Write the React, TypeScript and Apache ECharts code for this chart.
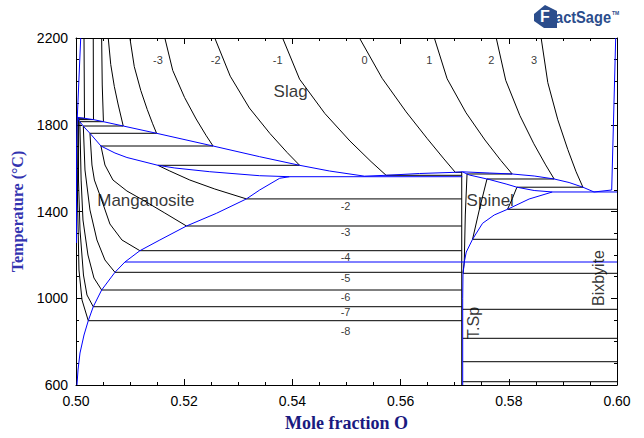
import React, { useEffect, useRef } from 'react';
import * as echarts from 'echarts';

type P = [number, number];

// Axis ranges / ticks
const xRange = [0.5, 0.6];
const yRange = [600, 2200];
const xStep = 0.02;
const yStep = 400;

// ---- Slag isobars (log pO2), from top edge down to the liquidus
const slagM8: P[] = [[0.50148, 2200], [0.50157, 1829.7]];
const slagM7: P[] = [[0.50319, 2200], [0.50323, 1823.7]];
const slagM6: P[] = [[0.50474, 2200], [0.50485, 1983.3], [0.50507, 1814.1]];
const slagM5: P[] = [[0.50596, 2200], [0.50642, 2078.3], [0.50708, 1976.8], [0.50777, 1895.7], [0.50873, 1794.2]];
const slagM4: P[] = [[0.50996, 2200], [0.51077, 2068.1], [0.51197, 1958.4], [0.51317, 1870.3], [0.51417, 1804.4], [0.51489, 1760.6]];
const slagM3: P[] = [[0.51642, 2200], [0.51788, 2050.6], [0.52006, 1926.1], [0.52221, 1826.5], [0.52402, 1751.8], [0.52533, 1702]];
const slagM2: P[] = [[0.52565, 2200], [0.52851, 2023.9], [0.53205, 1877.2], [0.53585, 1759.6], [0.53904, 1671.6], [0.54133, 1613]];
const slagM1: P[] = [[0.53819, 2200], [0.54133, 2010], [0.546, 1851.9], [0.55063, 1725.1], [0.55454, 1630.1], [0.55732, 1566.9]];
const slag0: P[] = [[0.5524, 2200], [0.55659, 2014.2], [0.56103, 1859.2], [0.56494, 1735.7], [0.56801, 1642.5], [0.57011, 1580.7]];
const slag1: P[] = [[0.56624, 2200], [0.5686, 2011.9], [0.5721, 1855.1], [0.57559, 1729.7], [0.57852, 1635.6], [0.58063, 1572.9]];
const slag2: P[] = [[0.57768, 2200], [0.57943, 2005], [0.58205, 1842.2], [0.58463, 1712.2], [0.58681, 1614.9], [0.58838, 1549.9]];
const slag3: P[] = [[0.58598, 2200], [0.58721, 1994.3], [0.58906, 1822.8], [0.5909, 1685.9], [0.59244, 1583.1], [0.5937, 1512]];

// ---- Tie lines Slag + Manganosite
const tieSlagMn: P[][] = [
  [[0.50035, 1829.7], [0.50157, 1829.7]],
  [[0.50049, 1823.7], [0.50323, 1823.7]],
  [[0.50071, 1814.1], [0.50507, 1814.1]],
  [[0.50135, 1794.2], [0.50873, 1794.2]],
  [[0.50258, 1760.6], [0.51489, 1760.6]],
  [[0.50461, 1702], [0.52533, 1702]],
  [[0.51513, 1613], [0.54133, 1613]],
];

// ---- Isobars inside Manganosite
const mnM8: P[] = [[0.50035, 1829.7], [0.50028, 1453], [0.50055, 1130.2], [0.50111, 991.9], [0.50227, 896.5]];
const mnM7: P[] = [[0.50049, 1823.7], [0.50046, 1545.2], [0.50074, 1314.7], [0.50138, 1107.2], [0.50203, 1015], [0.50319, 961]];
const mnM6: P[] = [[0.50071, 1814.1], [0.50095, 1545], [0.50129, 1360.8], [0.50221, 1199.4], [0.50332, 1093.4], [0.50474, 1038]];
const mnM5: P[] = [[0.50135, 1794.2], [0.50166, 1591.3], [0.50258, 1407], [0.50387, 1268.6], [0.50535, 1176.4], [0.5072, 1119.6]];
const mnM4: P[] = [[0.50258, 1760.6], [0.50295, 1614.4], [0.5034, 1545], [0.50474, 1453], [0.50627, 1342.4], [0.50849, 1268.6], [0.51181, 1219.3]];
const mnM3: P[] = [[0.50461, 1702], [0.50535, 1614.4], [0.50683, 1545.2], [0.50941, 1494.5], [0.51236, 1453], [0.51642, 1393], [0.52042, 1333.1]];
const mnM2: P[] = [[0.51513, 1613], [0.51734, 1586.7], [0.52103, 1545.2], [0.52565, 1503.7], [0.5315, 1458]];

// ---- Tie lines Manganosite + Spinel
const tieMnSp: P[][] = [
  [[0.5315, 1458], [0.5713, 1458]],
  [[0.52042, 1333.1], [0.5713, 1333.1]],
  [[0.51181, 1219.3], [0.5713, 1219.3]],
  [[0.5072, 1119.6], [0.5713, 1119.6]],
  [[0.50474, 1038], [0.5713, 1038]],
  [[0.50319, 961], [0.5713, 961]],
  [[0.50227, 896.5], [0.5713, 896.5]],
];

// ---- Tie lines Slag + Spinel
const tieSlagSp: P[][] = [
  [[0.55732, 1566.9], [0.5713, 1566.9]],
  [[0.57011, 1580.7], [0.5713, 1580.7]],
  [[0.57228, 1573], [0.58063, 1572.9]],
  [[0.57597, 1549.9], [0.58838, 1549.9]],
  [[0.5815, 1512], [0.5937, 1512]],
];

// ---- Isobars inside Spinel
const sp1: P[] = [[0.57228, 1573], [0.57196, 1383.9], [0.57177, 1167.1], [0.57153, 1115]];
const sp2: P[] = [[0.57597, 1549.9], [0.57454, 1406.9], [0.5733, 1271.8]];
const sp3: P[] = [[0.5815, 1512], [0.58066, 1460], [0.57976, 1410.1]];
const spLeft: P[] = [[0.5713, 1583], [0.5713, 600]];

// ---- Tie lines Spinel + Bixbyite
const tieSpBx: P[][] = [
  [[0.57976, 1410.1], [0.6, 1410.1]],
  [[0.5733, 1271.8], [0.6, 1271.8]],
  [[0.57153, 1115], [0.6, 1115]],
  [[0.57148, 949], [0.6, 949]],
  [[0.57148, 815.3], [0.6, 815.3]],
  [[0.57148, 707.4], [0.6, 707.4]],
  [[0.57148, 615.2], [0.6, 615.2]],
];

// ---- Phase boundaries (blue)
const liqTopLeft: P[] = [[0.50087, 2200], [0.50024, 1834.3]];
const liqMn: P[] = [
  [0.50024, 1834.3], [0.50157, 1829.7], [0.50323, 1823.7], [0.50507, 1814.1], [0.50873, 1794.2],
  [0.51489, 1760.6], [0.52533, 1702], [0.53395, 1652.7], [0.54133, 1613], [0.54686, 1586.7],
  [0.55332, 1562.9], [0.55732, 1566.9], [0.56347, 1575.2], [0.57011, 1580.7], [0.5714, 1583],
];
const liqRight: P[] = [
  [0.5714, 1583], [0.57638, 1577.5], [0.58063, 1572.9], [0.58469, 1563.7], [0.58838, 1549.9],
  [0.59114, 1533.7], [0.5937, 1512], [0.59576, 1490], [0.59902, 1499.1], [0.59976, 2200],
];
const solidusMn: P[] = [
  [0.50024, 1834.3], [0.50074, 1812.7], [0.50166, 1785], [0.50258, 1760.6], [0.50461, 1702],
  [0.5072, 1669.7], [0.50941, 1649], [0.51513, 1613], [0.51827, 1600.6], [0.52472, 1583.5],
  [0.53395, 1565], [0.53948, 1560.4], [0.5714, 1560.4],
];
const mnLeft: P[] = [[0.50024, 1834.3], [0.5001, 1700], [0.5001, 1255]];
const solvusMn: P[] = [
  [0.50018, 600], [0.50037, 669.1], [0.50074, 747.5], [0.50148, 830.5], [0.50227, 896.5],
  [0.50319, 961], [0.50474, 1038], [0.5072, 1119.6], [0.50904, 1167.1], [0.51181, 1219.3],
  [0.5155, 1268.6], [0.52042, 1333.1], [0.52596, 1391.7], [0.5315, 1458], [0.53395, 1499.1],
  [0.53764, 1553.1], [0.53948, 1560.4],
];
const solidusSp: P[] = [
  [0.5714, 1583], [0.5727, 1568.3], [0.57638, 1547.6], [0.5795, 1526.8], [0.5815, 1512],
  [0.58469, 1496.8], [0.58806, 1490],
];
const solvusSp: P[] = [
  [0.57177, 1167.1], [0.57214, 1213], [0.5733, 1271.8], [0.57515, 1345.6], [0.57731, 1383.9],
  [0.57976, 1410.1], [0.58376, 1457.6], [0.58806, 1490],
];
const peritectic: P[] = [[0.58806, 1490], [0.6, 1490]];
const transition: P[] = [[0.50904, 1167.1], [0.6, 1167.1]];
const tspRight: P[] = [[0.57177, 1167.1], [0.57153, 1107], [0.57148, 1000], [0.57148, 600]];

// ---- Isobar labels
const topLabelNames = ['-3', '-2', '-1', '0', '1', '2', '3'];
const topLabelX = [0.51513, 0.52583, 0.53727, 0.55332, 0.56531, 0.57675, 0.58469];
const topLabelT = 2098.6;
const lowLabelNames = ['-2', '-3', '-4', '-5', '-6', '-7', '-8'];
const lowLabelX = 0.54982;
const lowLabelT = [1425.4, 1305.5, 1190.2, 1093.4, 1005.8, 936.6, 849];

// ---- Region labels
const regionNames = ['Slag', 'Manganosite', 'Spinel'];
const regionX = [0.53967, 0.51292, 0.57657];
const regionT = [1955.6, 1453, 1453];
const vertNames = ['T.Sp', 'Bixbyite'];
const vertX = [0.57343, 0.5965];
const vertT = [886, 1093.4];

const BLUE = '#0000ff';
const BLACK = '#000000';
const SANS = 'Arial, "Liberation Sans", sans-serif';
const SERIF = '"Times New Roman", "Liberation Serif", serif';

function line(data: P[], color: string, z: number) {
  return {
    type: 'line',
    data,
    showSymbol: false,
    symbol: 'none',
    silent: true,
    z,
    lineStyle: { color, width: 1 },
  };
}

function labelStyle(size: number, rotate = 0) {
  return {
    show: true,
    position: 'inside',
    formatter: '{b}',
    fontSize: size,
    color: '#000',
    fontFamily: SANS,
    rotate,
    textBorderWidth: 0,
    textBorderColor: 'transparent',
  };
}

export default function App() {
  const ref = useRef<HTMLDivElement>(null);
  useEffect(() => {
    document.body.style.margin = '0';
    const chart = echarts.init(ref.current!, null, { renderer: 'svg' });

    const blackCurves: P[][] = [
      slagM8, slagM7, slagM6, slagM5, slagM4, slagM3, slagM2, slagM1, slag0, slag1, slag2, slag3,
      ...tieSlagMn, mnM8, mnM7, mnM6, mnM5, mnM4, mnM3, mnM2, ...tieMnSp, ...tieSlagSp,
      sp1, sp2, sp3, spLeft, ...tieSpBx,
    ];
    const blueCurves: P[][] = [
      liqTopLeft, liqMn, liqRight, solidusMn, mnLeft, solvusMn, solidusSp, solvusSp,
      peritectic, transition, tspRight,
    ];

    const series: any[] = [
      ...blackCurves.map((c) => line(c, BLACK, 2)),
      ...blueCurves.map((c) => line(c, BLUE, 3)),
      {
        type: 'scatter',
        symbolSize: 0,
        silent: true,
        z: 5,
        itemStyle: { color: '#000' },
        data: [
          ...topLabelNames.map((n, i) => ({ name: n, value: [topLabelX[i], topLabelT] })),
          ...lowLabelNames.map((n, i) => ({ name: n, value: [lowLabelX, lowLabelT[i]] })),
        ],
        label: labelStyle(11),
      },
      {
        type: 'scatter',
        symbolSize: 0,
        silent: true,
        z: 5,
        itemStyle: { color: '#000' },
        data: regionNames.map((n, i) => ({ name: n, value: [regionX[i], regionT[i]] })),
        label: labelStyle(17),
      },
      {
        type: 'scatter',
        symbolSize: 0,
        silent: true,
        z: 5,
        itemStyle: { color: '#000' },
        data: vertNames.map((n, i) => ({ name: n, value: [vertX[i], vertT[i]] })),
        label: labelStyle(16, 90),
      },
    ];

    const axisCommon = {
      type: 'value',
      axisLine: { show: true, onZero: false, lineStyle: { color: '#000', width: 1 } },
      axisTick: { show: true, inside: true, length: 6, lineStyle: { color: '#000' } },
      minorTick: { show: true, splitNumber: 4, length: 3, lineStyle: { color: '#000' } },
      splitLine: { show: false },
      minorSplitLine: { show: false },
    };

    chart.setOption({
      animation: false,
      backgroundColor: '#ffffff',
      grid: { left: 76, top: 38, width: 541, height: 347, containLabel: false },
      xAxis: [
        {
          ...axisCommon,
          position: 'bottom',
          min: xRange[0],
          max: xRange[1],
          interval: xStep,
          axisLabel: { formatter: (v: number) => v.toFixed(2), fontSize: 14, color: '#000', margin: 9, fontFamily: SANS },
          name: 'Mole fraction O',
          nameLocation: 'middle',
          nameGap: 29,
          nameTextStyle: { fontFamily: SERIF, fontWeight: 'bold', fontSize: 18, color: '#1a1a80', verticalAlign: 'top' },
        },
        {
          ...axisCommon,
          position: 'top',
          min: xRange[0],
          max: xRange[1],
          interval: xStep,
          axisLabel: { show: false },
        },
      ],
      yAxis: [
        {
          ...axisCommon,
          position: 'left',
          min: yRange[0],
          max: yRange[1],
          interval: yStep,
          axisLabel: { formatter: (v: number) => String(Math.round(v)), fontSize: 14, color: '#000', margin: 8, fontFamily: SANS },
          name: 'Temperature (\u00B0C)',
          nameLocation: 'middle',
          nameGap: 37,
          nameTextStyle: { fontFamily: SERIF, fontWeight: 'bold', fontSize: 16, color: '#3333b0' },
        },
        {
          ...axisCommon,
          position: 'right',
          min: yRange[0],
          max: yRange[1],
          interval: yStep,
          axisLabel: { show: false },
        },
      ],
      series,
      graphic: [
        {
          type: 'polygon',
          shape: { points: [[534, 14], [545, 5], [557, 11], [557, 28], [544, 28], [534, 21]] },
          style: { fill: '#2b4d8c' },
        },
        {
          type: 'text',
          x: 540,
          y: 8,
          style: { text: 'F', fill: '#ffffff', font: 'bold 16px Arial, "Liberation Sans", sans-serif' },
        },
        {
          type: 'text',
          x: 555,
          y: 9,
          scaleX: 0.86,
          style: { text: 'actSage', fill: '#2b4d8c', font: 'bold 17px Arial, "Liberation Sans", sans-serif' },
        },
        {
          type: 'text',
          x: 612,
          y: 10,
          style: { text: 'TM', fill: '#2b4d8c', font: 'bold 5px Arial, sans-serif' },
        },
      ],
    });
    return () => chart.dispose();
  }, []);
  return <div ref={ref} style={{ width: 644, height: 438 }} />;
}
